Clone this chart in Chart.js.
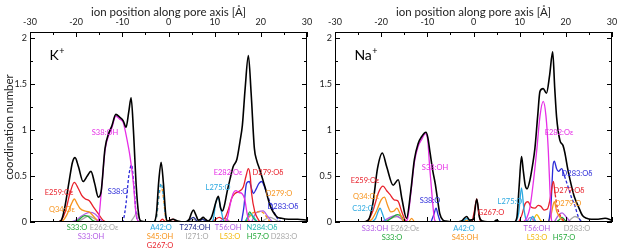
<!DOCTYPE html>
<html><head><meta charset="utf-8">
<script src="https://cdn.jsdelivr.net/npm/chart.js@4/dist/chart.umd.min.js"></script>
<style>
html,body{margin:0;padding:0;background:#fff;overflow:hidden;width:617px;height:249px;}
.p{position:absolute;top:0;height:249px;}
#wl{left:0;width:327px;} #wr{left:305px;width:322px;}
</style></head><body>
<div class="p" id="wl"><canvas id="cl" width="327" height="249"></canvas></div>
<div class="p" id="wr"><canvas id="cr" width="322" height="249"></canvas></div>
<script>
// ---------- axis ticks ----------
const X_TICKS = [-30, -20, -10, 0, 10, 20, 30];
const Y_TICKS = [0, 0.5, 1, 1.5, 2];

// ---------- K+ panel series: [position (Å), coordination number] ----------
const K_TOTAL = [[-30,0],[-24,0],[-23.2,0.02],[-22.5,0.15],[-21.5,0.45],[-20.8,0.65],[-20.25,0.70],[-19.5,0.6],[-18.5,0.44],[-17.6,0.5],[-16.8,0.55],[-16,0.42],[-15.2,0.27],[-14.6,0.33],[-13.75,0.8],[-12.9,0.97],[-12.3,1.04],[-11.4,1.17],[-10.6,1.14],[-9.8,1.1],[-9.2,1.03],[-8.6,1.2],[-8.1,1.35],[-7.6,1.0],[-7.0,0.4],[-6.5,0.1],[-6.0,0.01],[-3.2,0],[-2.6,0.1],[-2.1,0.45],[-1.6,0.65],[-1.1,0.42],[-0.6,0.08],[-0.2,0.01],[1,0.03],[2,0.01],[3.5,0],[4.5,0.03],[5.0,0.1],[5.4,0.13],[5.9,0.08],[6.5,0.02],[7.0,0.03],[7.5,0.05],[8.0,0.03],[8.6,0.01],[9.3,0.05],[9.8,0.13],[10.4,0.24],[10.8,0.28],[11.3,0.15],[11.7,0.12],[12.2,0.2],[12.7,0.33],[13.3,0.46],[14,0.6],[14.8,0.68],[15.5,0.88],[16,1.05],[16.6,1.45],[17.3,1.81],[17.9,1.4],[18.6,0.8],[19.1,0.67],[19.7,0.58],[20.3,0.48],[20.9,0.38],[22,0.18],[23.4,0.06],[24.5,0.04],[26,0.03],[28,0.03],[30,0.02]];
const K_S38OH = [[-16,0],[-15.2,0.02],[-14.6,0.3],[-13.75,0.78],[-12.9,0.95],[-12.3,1.02],[-11.4,1.15],[-10.6,1.12],[-9.8,1.08],[-9.2,0.95],[-8.7,0.82],[-8.3,0.7],[-7.6,0.42],[-7.1,0.12],[-6.6,0.01],[-6,0]];
const K_S38O = [[-10.2,0],[-9.8,0.02],[-9.2,0.2],[-8.6,0.5],[-8.0,0.62],[-7.5,0.4],[-7.0,0.08],[-6.6,0]];
const K_E259 = [[-24,0],[-23.2,0.02],[-22.3,0.12],[-21.3,0.32],[-20.4,0.43],[-19.6,0.37],[-18.8,0.29],[-18,0.25],[-17.15,0.23],[-16.2,0.16],[-15.2,0.09],[-14.2,0.02],[-13.5,0]];
const K_Q34 = [[-24,0],[-23,0.01],[-22,0.08],[-21,0.2],[-20.4,0.25],[-19.8,0.2],[-19.2,0.15],[-18.2,0.12],[-17.2,0.11],[-16.2,0.06],[-15.2,0.01],[-14.5,0]];
const K_S33O = [[-20.5,0],[-19.5,0.02],[-18.6,0.06],[-18.1,0.07],[-17.4,0.06],[-16.5,0.02],[-15.8,0]];
const K_S33OH = [[-21,0],[-20,0.02],[-19,0.06],[-18,0.09],[-17,0.105],[-16,0.09],[-15,0.04],[-14.2,0]];
const K_E262 = [[-20,0],[-19,0.02],[-18,0.05],[-17.4,0.065],[-16.5,0.05],[-15.5,0.02],[-14.8,0],[-11,null],[-8.2,0],[-7.4,0.06],[-6.9,0.1],[-6.4,0.04],[-5.8,0]];
const K_A42 = [[-3.2,0],[-2.6,0.05],[-2.1,0.28],[-1.6,0.42],[-1.1,0.28],[-0.6,0.04],[-0.2,0]];
const K_S45 = [[-3.2,0],[-2.6,0.05],[-2.1,0.26],[-1.6,0.4],[-1.1,0.26],[-0.6,0.04],[-0.2,0]];
const K_G267 = [[-2,0],[-1.3,0.03],[-0.6,0],[0.3,0.02],[1,0.03],[1.6,0]];
const K_T274 = [[4,0],[5,0.04],[5.4,0.05],[6,0.02],[6.6,0],[7.3,0.03],[7.8,0.02],[8.5,0]];
const K_I271 = [[4.5,0],[5.4,0.03],[6.5,0]];
const K_L275 = [[9.2,0],[9.7,0.03],[10.2,0.2],[10.8,0.26],[11.3,0.15],[11.9,0.02],[12.3,0]];
const K_E282 = [[12.3,0],[12.8,0.05],[13.4,0.2],[14,0.31],[14.6,0.34],[15.3,0.32],[15.9,0.31],[16.5,0.25],[17,0.1],[17.4,0.02],[17.8,0]];
const K_D279OD = [[9.5,0],[10.2,0.03],[11,0.05],[11.8,0.03],[12.3,0.05],[13,0.14],[13.7,0.26],[14.4,0.31],[15.2,0.33],[16.2,0.38],[16.8,0.5],[17.3,0.58],[17.7,0.5],[18.0,0.31],[18.7,0.11],[19.3,0.04],[19.8,0]];
const K_D283OD = [[15.8,0],[16.3,0.15],[16.9,0.42],[17.5,0.44],[18.0,0.36],[18.4,0.31],[19.0,0.36],[19.6,0.42],[20.2,0.44],[20.8,0.38],[21.3,0.31],[21.8,0.24],[22.4,0.17],[23.2,0.07],[24.1,0.01],[24.6,0]];
const K_D279O = [[17,0],[17.6,0.06],[18.3,0.1],[19.5,0.11],[20.5,0.1],[21.3,0.05],[22,0]];
const K_N284 = [[16.5,0],[17.3,0.06],[17.8,0.09],[18.5,0.05],[19.2,0]];
const K_H57 = [[16.8,0],[17.6,0.11],[18.2,0.06],[18.8,0.02],[19.5,0]];
const K_T56 = [[11,0],[11.8,0.03],[12.4,0.04],[13,0.01],[13.5,0],[16,null],[18,0],[19,0.1],[20.5,0.12],[21.5,0.06],[22.5,0]];
const K_L53 = [[12,0],[12.6,0.03],[13.3,0]];
const K_D283O = [[20,0],[21,0.03],[22,0.05],[23,0.03],[24,0]];

// ---------- Na+ panel series ----------
const NA_TOTAL = [[-30,0],[-24,0],[-22.8,0.02],[-21.8,0.2],[-20.8,0.58],[-19.75,0.75],[-18.8,0.6],[-17.4,0.40],[-16.3,0.46],[-15.5,0.25],[-14.5,0.04],[-13.6,0.33],[-12.8,0.68],[-12,0.85],[-11.2,0.93],[-10.3,0.975],[-9.9,0.92],[-9.4,0.75],[-8.8,0.55],[-8.3,0.42],[-7.8,0.25],[-7.3,0.09],[-6.6,0.02],[-6,0.01],[-4,0],[-2.6,0.01],[-1.5,0.06],[-0.8,0.02],[0,0.03],[0.7,0.25],[1.3,0.05],[2,0.01],[4.3,0],[5,0.02],[5.7,0],[8.8,0],[9.4,0.05],[9.9,0.4],[10.4,0.71],[10.8,0.55],[11.2,0.4],[11.6,0.36],[12.2,0.45],[12.8,0.62],[13.3,0.8],[13.9,1.15],[14.4,1.42],[15.1,1.45],[15.8,1.40],[16.5,1.6],[17.15,1.85],[17.6,1.45],[18,1.14],[18.7,0.89],[19.4,0.83],[19.8,0.75],[20.4,0.58],[20.9,0.46],[21.8,0.28],[22.7,0.17],[23.6,0.07],[24.5,0.04],[25.5,0.03],[27,0.03],[28.5,0.04],[30,0.02]];
const NA_E282 = [[10.8,0],[11.5,0.04],[12.2,0.15],[13,0.45],[13.7,0.78],[14.4,1.15],[15.1,1.31],[15.7,1.15],[16.2,0.78],[16.6,0.3],[16.9,0.02],[17.2,0]];
const NA_S38OH = [[-15,0],[-14.3,0.03],[-13.6,0.3],[-12.8,0.65],[-12,0.82],[-11.2,0.9],[-10.4,0.96],[-9.9,0.88],[-9.5,0.6],[-9.0,0.3],[-8.7,0.13],[-8.4,0.02],[-8,0]];
const NA_S38O = [[-9.2,0],[-8.6,0.08],[-8.1,0.15],[-7.7,0.08],[-7.2,0]];
const NA_E259 = [[-23.5,0],[-22.8,0.02],[-21.8,0.12],[-20.5,0.33],[-19.6,0.39],[-18.8,0.34],[-18.1,0.3],[-17.2,0.24],[-16.4,0.23],[-15.6,0.12],[-14.8,0.02],[-14.3,0]];
const NA_Q34 = [[-23,0],[-22,0.03],[-21,0.12],[-20,0.24],[-19.3,0.27],[-18.6,0.18],[-17.9,0.11],[-17.2,0.12],[-16.6,0.15],[-16,0.1],[-15.3,0.02],[-14.8,0],[-14.4,null],[-14,0],[-13.4,0.04],[-12.8,0]];
const NA_C32 = [[-22,0],[-21.2,0.04],[-20.6,0.12],[-20.25,0.15],[-19.8,0.1],[-19.2,0.02],[-18.6,0]];
const NA_S33O = [[-19,0],[-17.8,0.04],[-16.5,0.08],[-15.6,0.06],[-15,0]];
const NA_S33OH = [[-20,0],[-18.5,0.04],[-17,0.07],[-15.8,0.04],[-15,0]];
const NA_E262 = [[-19.5,0],[-18,0.04],[-16.5,0.06],[-15.5,0.03],[-14.8,0]];
const NA_A42 = [[-2.8,0],[-2,0.02],[-1.5,0.04],[-1,0.02],[-0.4,0]];
const NA_S45 = [[-2.5,0],[-1.5,0.02],[-0.8,0]];
const NA_G267 = [[-0.3,0],[0.2,0.12],[0.7,0.25],[1.1,0.12],[1.5,0]];
const NA_L275 = [[9.2,0],[9.8,0.1],[10.4,0.37],[10.9,0.15],[11.4,0.02],[11.8,0],[12,null],[12.2,0],[12.8,0.06],[13.5,0]];
const NA_D279OD = [[9.8,0],[10.5,0.08],[11.2,0.2],[11.8,0.22],[12.5,0.16],[13.3,0.15],[14,0.18],[14.6,0.17],[15.3,0.13],[16,0.14],[16.6,0.25],[17.3,0.44],[17.7,0.3],[18.1,0.17],[18.7,0.08],[19.3,0.03],[20,0]];
const NA_D283OD = [[16.3,0],[16.8,0.2],[17.2,0.6],[17.5,0.66],[18.0,0.58],[18.4,0.55],[19.1,0.58],[19.7,0.5],[20.5,0.38],[21.2,0.27],[22,0.17],[22.6,0.07],[23.1,0.02],[23.6,0]];
const NA_D279O = [[16.2,0],[16.8,0.08],[17.5,0.22],[18,0.12],[18.6,0.06],[19.2,0.02],[19.8,0]];
const NA_T56 = [[11.5,0],[12.3,0.05],[13,0.02],[13.5,0],[15,null],[17.5,0],[18.5,0.08],[19.2,0.1],[20,0.06],[21,0]];
const NA_L53 = [[12.8,0],[13.7,0.08],[14.5,0.02],[15,0]];
const NA_H57 = [[18,0],[18.7,0.03],[19.2,0.05],[19.8,0.02],[20.5,0]];
const NA_D283O = [[20.5,0],[21.3,0.04],[22,0.06],[22.8,0.04],[23.5,0]];

// ---------- styles ----------
const C = {
  black:'#000000', mag:'#e62ee6', red:'#e8202a', orange:'#f7941d', blue:'#2a2ad8',
  green:'#22a838', gray:'#a8a8a8', violet:'#b35ce6', cyan:'#2aa8e0', navy:'#1f2a8c',
  teal:'#22b8b0', yellow:'#f2b807'
};
const FONT = 'Lato, "Open Sans", sans-serif';

function ds(pts, color, o = {}) {
  const d = {
    data: pts.map(p => ({ x: p[0], y: p[1] })),
    borderColor: color, borderWidth: o.w || 1.3, borderDash: o.dash || [],
    pointRadius: 0, fill: false, cubicInterpolationMode: 'monotone', spanGaps: false
  };
  if (o.dashFrom !== undefined) {
    d.segment = { borderDash: c => (c.p0.parsed.x >= o.dashFrom ? [3, 2] : undefined) };
  }
  return d;
}

const K_SETS = [
  ds(K_TOTAL, C.black, { w: 1.6 }),
  ds(K_S38OH, C.mag), ds(K_S38O, C.blue, { dash: [3, 2] }),
  ds(K_E259, C.red), ds(K_Q34, C.orange),
  ds(K_S33O, C.green), ds(K_S33OH, C.violet), ds(K_E262, C.gray),
  ds(K_A42, C.cyan, { dash: [3, 3] }), ds(K_S45, C.orange, { dash: [3, 3] }), ds(K_G267, C.red),
  ds(K_T274, C.navy), ds(K_I271, C.gray),
  ds(K_L275, C.cyan), ds(K_E282, C.mag), ds(K_D279OD, C.red),
  ds(K_D283OD, C.blue, { dashFrom: 21 }), ds(K_D279O, C.orange, { dash: [3, 2] }),
  ds(K_N284, C.teal), ds(K_H57, C.green), ds(K_T56, C.violet), ds(K_L53, C.yellow), ds(K_D283O, C.gray)
];
const NA_SETS = [
  ds(NA_TOTAL, C.black, { w: 1.6 }),
  ds(NA_E282, C.mag), ds(NA_S38OH, C.mag), ds(NA_S38O, C.blue),
  ds(NA_E259, C.red), ds(NA_Q34, C.orange), ds(NA_C32, C.cyan),
  ds(NA_S33O, C.green), ds(NA_S33OH, C.violet), ds(NA_E262, C.gray),
  ds(NA_A42, C.cyan), ds(NA_S45, C.orange), ds(NA_G267, C.red),
  ds(NA_L275, C.cyan), ds(NA_D279OD, C.red, { dashFrom: 17.6 }),
  ds(NA_D283OD, C.blue, { dashFrom: 19.6 }), ds(NA_D279O, C.orange),
  ds(NA_T56, C.violet), ds(NA_L53, C.yellow), ds(NA_H57, C.green), ds(NA_D283O, C.gray)
];

// annotation labels (data coordinates)
const K_LABELS = [
  ['S38:OH', -13.76, 0.967, C.mag], ['E259:Oε', -23.72, 0.315, C.red], ['Q34:Oε', -23.07, 0.13, C.orange],
  ['S38:O', -10.94, 0.326, C.blue], ['S33:O', -19.82, -0.065, C.green], ['E262:Oε', -13.97, -0.065, C.gray],
  ['S33:OH', -16.79, -0.163, C.violet], ['A42:O', -1.63, -0.065, C.cyan], ['S45:OH', -1.84, -0.163, C.orange],
  ['G267:O', -1.84, -0.26, C.red], ['T274:OH', 5.74, -0.065, C.navy], ['I271:O', 6.17, -0.163, C.gray],
  ['T56:OH', 12.89, -0.065, C.violet], ['L53:O', 13.32, -0.163, C.yellow], ['N284:Oδ', 20.25, -0.065, C.teal],
  ['H57:O', 19.38, -0.163, C.green], ['D283:O', 25.01, -0.163, C.gray], ['E282:Oε', 12.89, 0.533, C.mag],
  ['L275:O', 10.72, 0.37, C.cyan], ['D279:Oδ', 21.55, 0.533, C.red], ['D279:O', 23.93, 0.304, C.orange],
  ['D283:Oδ', 24.8, 0.163, C.blue]
];
const NA_LABELS = [
  ['S38:OH', -8.34, 0.587, C.mag], ['E282:Oε', 18.52, 0.967, C.mag], ['E259:Oε', -23.5, 0.446, C.red],
  ['Q34:Oε', -23.29, 0.272, C.orange], ['C32:O', -23.94, 0.141, C.cyan], ['S38:O', -9.42, 0.228, C.blue],
  ['S33:OH', -21.34, -0.076, C.violet], ['E262:Oε', -14.84, -0.076, C.gray], ['S33:O', -17.65, -0.174, C.green],
  ['A42:O', -2.06, -0.076, C.cyan], ['S45:OH', -1.84, -0.174, C.orange], ['G267:O', 3.79, 0.098, C.red],
  ['L275:O', 7.9, 0.217, C.cyan], ['T56:OH', 13.75, -0.076, C.violet], ['L53:O', 13.75, -0.174, C.yellow],
  ['H57:O', 19.6, -0.174, C.green], ['D283:O', 22.41, -0.076, C.gray], ['D283:Oδ', 22.41, 0.522, C.blue],
  ['D279:Oδ', 20.68, 0.337, C.red], ['D279:O', 20.46, 0.196, C.orange]
];

const framePlugin = {
  id: 'frame',
  afterDatasetsDraw(chart) {
    const { ctx, chartArea: a, scales: { x, y } } = chart;
    ctx.save();
    ctx.strokeStyle = '#000'; ctx.lineWidth = 1;
    ctx.strokeRect(Math.round(a.left) + 0.5, Math.round(a.top) + 0.5, Math.round(a.right - a.left) - 1, Math.round(a.bottom - a.top) - 1);
    ctx.beginPath();
    for (let v = -30; v <= 30; v += 5) {
      const px = Math.round(x.getPixelForValue(v)) + 0.5;
      const len = v % 10 === 0 ? 5 : 3;
      ctx.moveTo(px, a.top); ctx.lineTo(px, a.top + len);
      ctx.moveTo(px, a.bottom); ctx.lineTo(px, a.bottom - len);
    }
    for (let v = 0; v <= 2.0001; v += 0.25) {
      const py = Math.round(y.getPixelForValue(v)) + 0.5;
      const len = Math.abs(v * 2 - Math.round(v * 2)) < 1e-6 ? 5 : 3;
      ctx.moveTo(a.left, py); ctx.lineTo(a.left + len, py);
      ctx.moveTo(a.right, py); ctx.lineTo(a.right - len, py);
    }
    ctx.stroke();
    ctx.restore();
  },
  afterDraw(chart, args, opts) {
    const { ctx, scales: { x, y } } = chart;
    ctx.save();
    ctx.textAlign = 'center'; ctx.textBaseline = 'middle';
    ctx.font = '7.5px ' + FONT;
    for (const [t, lx, ly, c] of opts.labels) {
      ctx.fillStyle = c;
      ctx.fillText(t, x.getPixelForValue(lx), y.getPixelForValue(ly));
    }
    // ion name with superscript +
    const ix = x.getPixelForValue(-25.8), iy = y.getPixelForValue(1.76);
    ctx.fillStyle = '#000'; ctx.textAlign = 'left'; ctx.textBaseline = 'alphabetic';
    ctx.font = '14px ' + FONT;
    ctx.fillText(opts.ion, ix, iy);
    const w = ctx.measureText(opts.ion).width;
    ctx.font = '9px ' + FONT;
    ctx.fillText('+', ix + w + 0.5, iy - 6);
    ctx.restore();
  }
};

function makeChart(id, sets, labels, ion, showTitle, padRight) {
  return new Chart(document.getElementById(id), {
    type: 'line',
    data: { datasets: sets },
    plugins: [framePlugin],
    options: {
      responsive: false, animation: false, devicePixelRatio: 1,
      layout: { padding: { left: 0, top: 0, right: padRight, bottom: 27 } },
      plugins: { legend: { display: false }, tooltip: { enabled: false }, frame: { labels, ion } },
      scales: {
        x: {
          type: 'linear', position: 'top', min: -30, max: 30,
          afterBuildTicks: s => { s.ticks = X_TICKS.map(v => ({ value: v })); },
          afterFit: s => { s.height = 32; },
          grid: { display: false, drawTicks: false }, border: { display: false },
          ticks: { padding: 5, maxRotation: 0, autoSkip: false, color: '#222', font: { family: FONT, size: 9 } },
          title: { display: true, text: 'ion position along pore axis [Å]', color: '#222', font: { family: FONT, size: 11.5 }, padding: { top: 5, bottom: 0 } }
        },
        y: {
          type: 'linear', position: 'left', min: 0, max: 2.065,
          afterBuildTicks: s => { s.ticks = Y_TICKS.map(v => ({ value: v })); },
          afterFit: s => { s.width = 30; },
          grid: { display: false, drawTicks: false }, border: { display: false },
          ticks: { padding: 3, color: '#222', font: { family: FONT, size: 9 }, callback: v => String(v) },
          title: { display: showTitle, text: 'coordination number', color: '#222', font: { family: FONT, size: 11.5 }, padding: { top: 2, bottom: 0 } }
        }
      }
    }
  });
}

makeChart('cl', K_SETS, K_LABELS, 'K', true, 20);
makeChart('cr', NA_SETS, NA_LABELS, 'Na', false, 15);
</script>
</body></html>
